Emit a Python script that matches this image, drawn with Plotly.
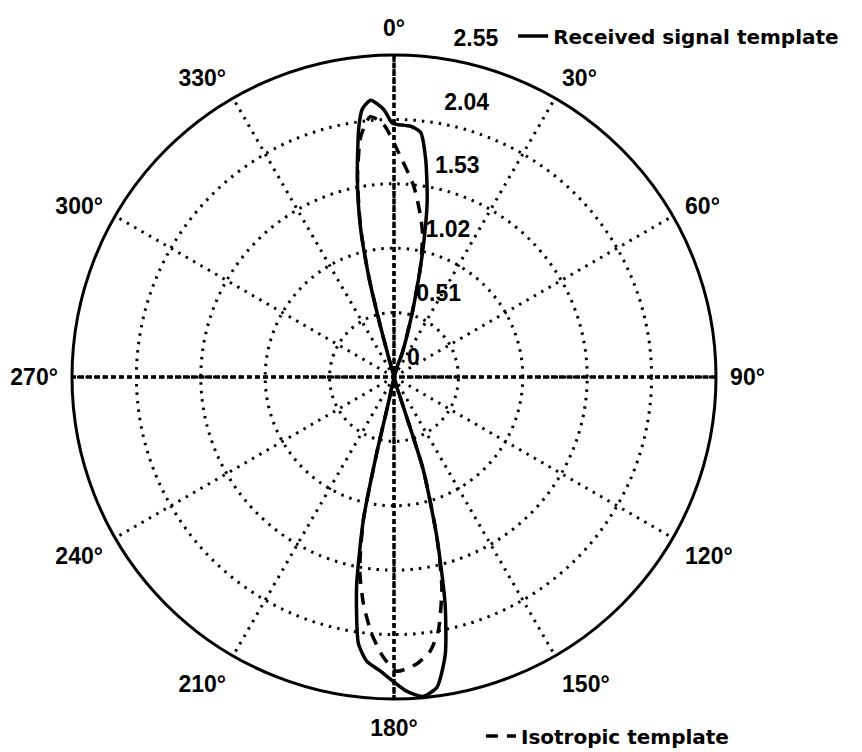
import plotly.graph_objects as go

# Received signal template (solid) - upper lobe then lower lobe, degrees clockwise from north
received_theta = [19, 19, 15.9, 13.5, 11.8, 10.6, 8.3, 6.2, 3.8, 0.7, 359.6, 357.8, 355.2, 353.3,
                  352.0, 349.6, 347.4, 345.9, 345.0, 345,
                  192, 192.2, 192.8, 192.1, 190.1, 187.6, 185.5, 182.7, 177.7, 174.8, 172.1,
                  169.5, 167.3, 165.0, 162.5, 163, 163]
received_r = [0, 0.20, 0.52, 0.90, 1.22, 1.43, 1.74, 1.95, 1.99, 2.00, 2.01, 2.12, 2.20, 2.14,
              2.00, 1.61, 1.22, 0.82, 0.41, 0,
              0, 0.21, 0.62, 1.16, 1.69, 2.13, 2.26, 2.33, 2.49, 2.54, 2.48,
              2.23, 1.84, 1.31, 0.77, 0.16, 0]

# Isotropic template (dashed)
isotropic_theta = [345, 345.0, 345.9, 347.4, 349.6, 352.1, 354.8, 357.7, 0.8, 5.9, 9.4, 11.2,
                   13.5, 15.9, 19, 19,
                   192, 192.2, 192.8, 192.1, 190.0, 187.7, 185.0, 182.2, 179.5, 175.5, 172.5,
                   170.1, 167.2, 165.0, 162.5, 163, 163]
isotropic_r = [0, 0.41, 0.82, 1.21, 1.60, 1.92, 2.07, 2.00, 1.80, 1.52, 1.29, 1.16,
               0.90, 0.52, 0.20, 0,
               0, 0.21, 0.62, 1.16, 1.56, 1.81, 2.04, 2.22, 2.33, 2.28, 2.19,
               2.04, 1.71, 1.31, 0.77, 0.16, 0]

# axes
angle_ticks = [0, 30, 60, 90, 120, 150, 180, 210, 240, 270, 300, 330]
angle_labels = [f"{a}°" for a in angle_ticks]
radial_ticks = [0, 0.51, 1.02, 1.53, 2.04, 2.55]
radial_labels = ["0", "0.51", "1.02", "1.53", "2.04", "2.55"]
r_max = 2.55
spoke_theta = [0, 0, 180]
spoke2_theta = [90, 90, 270]
spoke_r = [r_max, 0, r_max]

tick_font = dict(family="Liberation Sans, Arial", size=23, color="black", weight="bold")
legend_font = dict(family="DejaVu Sans", size=20, color="black", weight="bold")
grid_dash = "2.5px,6px"


def build_figure():
    fig = go.Figure()

    # heavier dotted main axes (0-180 and 90-270)
    for th in (spoke_theta, spoke2_theta):
        fig.add_trace(go.Scatterpolar(
            r=spoke_r, theta=th, mode="lines",
            line=dict(color="black", width=3.5, dash="5px,3px"),
            showlegend=False, hoverinfo="skip",
        ))

    fig.add_trace(go.Scatterpolar(
        r=received_r, theta=received_theta, mode="lines",
        name="Received signal template",
        line=dict(color="black", width=3.5, shape="spline", smoothing=0.6),
        legend="legend",
    ))
    fig.add_trace(go.Scatterpolar(
        r=isotropic_r, theta=isotropic_theta, mode="lines",
        name="Isotropic template",
        line=dict(color="black", width=3.5, dash="12px,9px", shape="spline", smoothing=0.6),
        legend="legend2",
    ))

    # radial tick labels, MATLAB style, just right of the north spoke
    fig.add_trace(go.Scatterpolar(
        r=radial_ticks, theta=[8.3] * len(radial_ticks), mode="markers+text",
        text=["\u00a0" + t for t in radial_labels], textposition="top right",
        textfont=tick_font, marker=dict(size=9, color="rgba(0,0,0,0)"),
        cliponaxis=False, showlegend=False, hoverinfo="skip",
    ))

    # page body adds an 8px offset, margins are reduced to compensate
    fig.update_layout(
        width=862, height=752,
        margin=dict(l=64, r=154, t=47, b=61, autoexpand=False),
        paper_bgcolor="white",
        polar=dict(
            bgcolor="white",
            domain=dict(x=[0, 1], y=[0, 1]),
            angularaxis=dict(
                rotation=90, direction="clockwise",
                tickmode="array", tickvals=angle_ticks, ticktext=angle_labels,
                tickfont=tick_font,
                ticks="outside", ticklen=8, tickcolor="rgba(0,0,0,0)",
                showline=True, linecolor="black", linewidth=3,
                showgrid=True, gridcolor="black", gridwidth=2.5, griddash=grid_dash,
            ),
            radialaxis=dict(
                range=[0, r_max], tickmode="array", tickvals=radial_ticks[1:-1],
                showticklabels=False, ticks="", showline=False,
                showgrid=True, gridcolor="black", gridwidth=2.5, griddash=grid_dash,
            ),
        ),
        legend=dict(
            x=0.685, y=1.0296, xanchor="left", yanchor="middle",
            font=legend_font, bgcolor="rgba(0,0,0,0)",
        ),
        legend2=dict(
            x=0.635, y=-0.0575, xanchor="left", yanchor="middle",
            font=legend_font, bgcolor="rgba(0,0,0,0)",
        ),
    )
    return fig


if __name__ == "__main__":
    fig = build_figure()
    fig.write_html("out.html")
